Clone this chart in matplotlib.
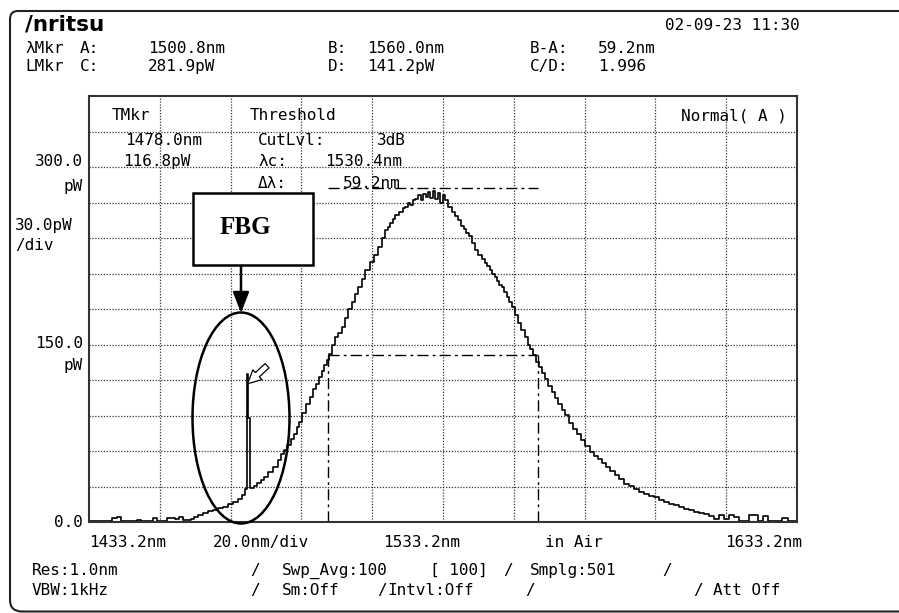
import numpy as np
import matplotlib.pyplot as plt
from matplotlib.patches import Rectangle, Ellipse, PathPatch
from matplotlib.path import Path

# --- trace ---
wavelength_nm = [
    1433.2, 1435.0, 1437.0, 1439.0, 1440.6, 1441.6, 1442.6, 1444.0, 1446.0, 1447.3,
    1448.6, 1450.5, 1452.0, 1453.0, 1454.5, 1456.0, 1457.0, 1458.2, 1459.2, 1460.2,
    1461.4, 1462.4, 1463.3, 1464.8, 1466.2, 1467.6, 1469.0, 1470.4, 1471.8, 1473.2,
    1474.6, 1476.0, 1477.0, 1477.8, 1478.0, 1478.3, 1478.8, 1479.6, 1480.3, 1481.2,
    1482.2, 1483.1, 1484.5, 1486.0, 1487.0, 1487.8, 1488.8, 1489.7, 1490.6, 1491.6,
    1492.3, 1493.0, 1494.0, 1495.0, 1496.0, 1496.8, 1497.7, 1498.5, 1499.3, 1500.0,
    1500.7, 1501.3, 1502.3, 1503.2, 1504.1, 1505.0, 1506.0, 1506.9, 1507.9, 1508.8,
    1509.8, 1510.7, 1511.9, 1513.1, 1514.2, 1515.4, 1516.3, 1517.3, 1518.0, 1518.7,
    1519.4, 1520.1, 1521.5, 1522.2, 1522.9, 1523.6, 1524.3, 1525.0, 1525.8, 1526.5,
    1527.2, 1528.0, 1528.6, 1529.3, 1530.0, 1530.7, 1531.4, 1532.0, 1532.8, 1533.5,
    1534.2, 1535.2, 1536.1, 1537.0, 1538.0, 1538.7, 1539.4, 1540.1, 1540.8, 1541.8,
    1542.7, 1543.6, 1544.6, 1545.3, 1546.0, 1546.7, 1547.4, 1548.1, 1548.8, 1549.5,
    1550.2, 1550.9, 1551.6, 1552.3, 1553.0, 1554.0, 1554.9, 1555.8, 1556.8, 1557.5,
    1558.3, 1559.2, 1560.0, 1560.6, 1561.5, 1562.5, 1563.4, 1564.4, 1565.3, 1566.3,
    1567.2, 1568.1, 1569.3, 1570.5, 1571.6, 1572.8, 1574.0, 1575.2, 1576.4, 1577.6,
    1578.8, 1579.9, 1581.1, 1582.3, 1583.7, 1585.1, 1586.5, 1587.9, 1589.3, 1590.8,
    1592.2, 1593.6, 1595.0, 1596.4, 1597.8, 1599.2, 1600.6, 1602.0, 1603.5, 1604.9,
    1606.3, 1607.7, 1609.1, 1610.5, 1612.0, 1613.3, 1614.8, 1616.2, 1617.5, 1619.0,
    1620.3, 1621.5, 1622.6, 1624.4, 1625.5, 1627.5, 1630.2, 1631.0, 1633.2,
]
power_pw = [
    0.5, 0.5, 0.8, 0.5, 3.5, 4.0, 1.0, 0.8, 0.6, 2.0,
    0.6, 0.8, 3.5, 1.0, 0.8, 3.5, 3.8, 2.5, 4.0, 2.0,
    1.5, 2.5, 4.0, 5.5, 7.6, 9.0, 10.5, 11.5, 12.7, 15.0,
    16.9, 19.5, 23.0, 28.0, 125.0, 88.0, 29.0, 28.5, 30.5, 33.0,
    35.5, 38.0, 42.0, 46.5, 52.0, 57.8, 61.0, 64.8, 70.0, 74.7,
    80.0, 84.5, 92.0, 100.0, 106.0, 112.0, 117.0, 122.5, 128.0, 133.0,
    137.0, 142.3, 150.0, 156.0, 160.0, 164.8, 172.0, 180.3, 186.0, 193.0,
    199.0, 205.7, 213.0, 219.7, 226.0, 232.4, 240.0, 246.5, 249.0, 253.0,
    256.0, 259.2, 262.0, 265.0, 266.2, 270.0, 268.0, 272.0, 273.3, 276.0,
    272.0, 277.0, 275.0, 279.0, 274.0, 280.0, 273.0, 278.0, 270.0, 276.0,
    271.8, 266.0, 262.0, 259.0, 255.0, 250.0, 248.0, 244.0, 242.0, 236.0,
    229.6, 226.0, 222.6, 219.0, 216.0, 213.0, 209.9, 207.0, 204.0, 200.0,
    198.6, 194.0, 190.0, 186.0, 181.7, 175.0, 168.0, 162.0, 156.3, 150.0,
    146.0, 141.0, 135.0, 131.0, 126.0, 121.2, 115.0, 109.9, 105.0, 100.0,
    95.0, 90.2, 84.0, 78.9, 74.0, 69.0, 64.0, 59.2, 56.0, 53.6,
    50.0, 46.5, 43.0, 39.5, 36.0, 32.4, 30.5, 28.2, 25.0, 23.4,
    22.0, 21.1, 18.5, 16.9, 15.5, 14.1, 12.5, 11.3, 10.0, 8.5,
    8.0, 7.1, 5.0, 2.9, 6.0, 2.9, 5.5, 4.2, 1.0, 1.2,
    6.0, 5.5, 1.0, 5.0, 1.0, 0.8, 3.0, 0.5, 0.5,
]

# markers / threshold analysis
marker_a = 1500.8
marker_b = 1560.0
level_c = 281.9
level_d = 141.2
tmkr_wl = 1478.0
tmkr_pw = 116.8

x_start, x_stop, x_div = 1433.2, 1633.2, 20.0
y_div, n_ydiv = 30.0, 12

W, H = 899, 613
MONO = 'DejaVu Sans Mono'
FS = 11.5


def fx(px):
    return px / W


def fy(py):
    return 1 - py / H


fig = plt.figure(figsize=(W / 100, H / 100), dpi=100)
ax = fig.add_axes([fx(89), fy(522), (797 - 89) / W, (522 - 96) / H])

ax.plot(wavelength_nm, power_pw, drawstyle='steps-mid', color='black', lw=1.2)

dashdot = (0, (8, 3, 2, 3))
ax.hlines([level_c, level_d], marker_a, marker_b, colors='black', lw=1, linestyles=[dashdot])
ax.vlines([marker_a, marker_b], 0, level_d, colors='black', lw=1, linestyles=[dashdot])

# TMkr hollow arrow
ax.annotate('', xy=(tmkr_wl, tmkr_pw), xytext=(14, 13), textcoords='offset points',
            arrowprops=dict(arrowstyle='simple,head_length=0.8,head_width=0.8,tail_width=0.35',
                            fc='white', ec='black', lw=0.9, shrinkA=0, shrinkB=0,
                            mutation_scale=12))

ax.set_xlim(x_start, x_stop)
ax.set_ylim(0, y_div * n_ydiv)
ax.set_xticks(x_start + x_div * np.arange(1, 10))
ax.set_yticks(y_div * np.arange(1, n_ydiv))
ax.tick_params(length=0, labelbottom=False, labelleft=False)
ax.grid(color='#333333', ls=(0, (1, 1.3)), lw=0.9)
for s in ax.spines.values():
    s.set_color('#333333')
    s.set_linewidth(1.5)


def put(x, y, s, ha='left', **kw):
    kw.setdefault('family', MONO)
    kw.setdefault('fontsize', FS)
    fig.text(fx(x), fy(y), s, ha=ha, va='baseline', **kw)


# header
put(25, 30, '/nritsu', family='DejaVu Sans', fontweight='bold', fontsize=15.5)
put(800, 30, '02-09-23 11:30', ha='right')
for x, s in [(25, 'λMkr'), (80, 'A:'), (148, '1500.8nm'), (328, 'B:'), (367, '1560.0nm'),
             (530, 'B-A:'), (598, '59.2nm')]:
    put(x, 53, s)
for x, s in [(25, 'LMkr'), (80, 'C:'), (148, '281.9pW'), (328, 'D:'), (367, '141.2pW'),
             (530, 'C/D:'), (598, '1.996')]:
    put(x, 71, s)

# inside the graticule
put(112, 120, 'TMkr')
put(125, 145, '1478.0nm')
put(123, 166, '116.8pW')
put(250, 120, 'Threshold')
put(258, 145, 'CutLvl:')
put(377, 145, '3dB')
put(258, 166, 'λc:')
put(325, 166, '1530.4nm')
put(258, 188, 'Δλ:')
put(343, 188, '59.2nm')
put(787, 120, 'Normal( A )', ha='right')

# vertical scale
put(83, 166, '300.0', ha='right')
put(83, 191, 'pW', ha='right')
put(15, 230, '30.0pW')
put(15, 250, '/div')
put(83, 348, '150.0', ha='right')
put(83, 370, 'pW', ha='right')
put(83, 527, '0.0', ha='right')

# horizontal scale
put(89, 547, '1433.2nm')
put(213, 547, '20.0nm/div')
put(383, 547, '1533.2nm')
put(545, 547, 'in Air')
put(802, 547, '1633.2nm', ha='right')

# settings footer
for x, s in [(32, 'Res:1.0nm'), (250, '/'), (282, 'Swp_Avg:100'), (430, '[ 100]'),
             (503, '/'), (530, 'Smplg:501'), (662, '/')]:
    put(x, 575, s)
for x, s in [(32, 'VBW:1kHz'), (250, '/'), (282, 'Sm:Off'), (377, '/'), (387, 'Intvl:Off'),
             (525, '/'), (693, '/'), (713, 'Att Off')]:
    put(x, 595, s)

# screen frame (runs off the right edge of the picture)
verts = [(930, 11), (18, 11), (10, 11), (10, 19), (10, 600), (10, 611.5), (22, 611.5), (930, 611.5)]
codes = [Path.MOVETO, Path.LINETO, Path.CURVE3, Path.CURVE3, Path.LINETO, Path.CURVE3,
         Path.CURVE3, Path.LINETO]
frame = Path([(fx(x), fy(y)) for x, y in verts], codes)
fig.add_artist(PathPatch(frame, fill=False, ec='#222222', lw=1.5, transform=fig.transFigure))

# FBG callout
fig.add_artist(Rectangle((fx(193), fy(265)), 120 / W, 72 / H, transform=fig.transFigure,
                         fc='white', ec='black', lw=1.8, zorder=3))
fig.text(fx(245), fy(234), 'FBG', ha='center', va='baseline', family='Liberation Serif',
         fontweight='bold', fontsize=18, zorder=4)
ax.annotate('', xy=(241, H - 313), xycoords='figure pixels',
            xytext=(241, H - 265), textcoords='figure pixels',
            arrowprops=dict(arrowstyle='-|>,head_length=0.9,head_width=0.35', color='black',
                            lw=1.8, shrinkA=0, shrinkB=0, mutation_scale=14))
fig.add_artist(Ellipse((fx(241), fy(418)), 97 / W, 211 / H, transform=fig.transFigure,
                       fill=False, ec='black', lw=1.8, zorder=3))

fig.savefig('out.png', dpi=100, facecolor='white')
